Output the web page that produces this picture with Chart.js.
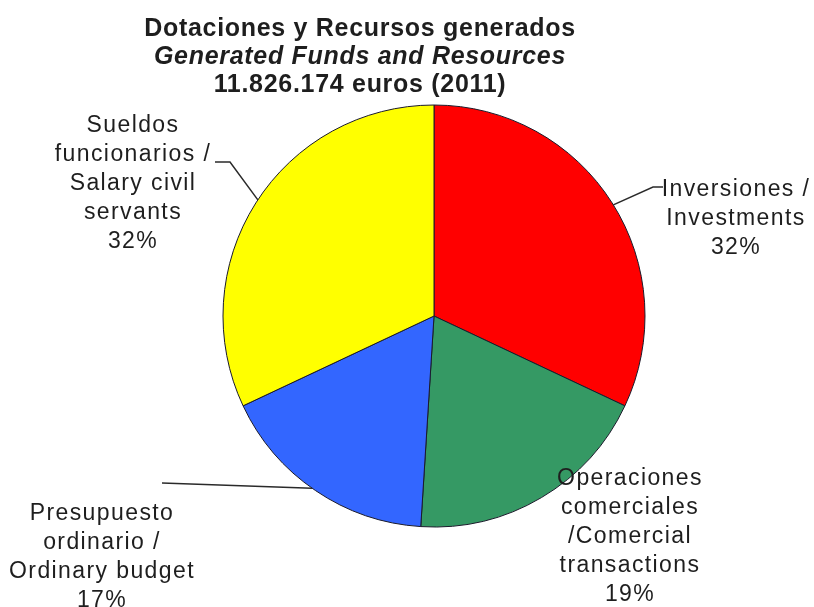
<!DOCTYPE html>
<html>
<head>
<meta charset="utf-8">
<script src="https://cdn.jsdelivr.net/npm/chart.js@4/dist/chart.umd.min.js"></script>
<style>
    html, body { margin: 0; padding: 0; background: #fff; }
    #wrap { width: 814px; height: 607px; }
</style>
</head>
<body>
<div id="wrap"><canvas id="fundsPie" width="814" height="607"></canvas></div>
<script>
// ---- Data ----

const categories = ['Inversiones / Investments', 'Operaciones comerciales / Comercial transactions', 'Presupuesto ordinario / Ordinary budget', 'Sueldos funcionarios / Salary civil servants'];
const shares = [32, 19, 17, 32];
const sliceColors = ['#ff0000', '#359964', '#3366ff', '#ffff00'];
const labelLines = [
    ['Inversiones /', 'Investments'],
    ['Operaciones', 'comerciales', '/Comercial', 'transactions'],
    ['Presupuesto', 'ordinario /', 'Ordinary budget'],
    ['Sueldos', 'funcionarios /', 'Salary civil', 'servants']
];
const titleLines = ['Dotaciones y Recursos generados', 'Generated Funds and Resources', '11.826.174 euros (2011)'];

// ---- Label placement (text block + leader line to the rim) ----

const placement = [
    { x: 736, y: 196, leader: [[663, 187], [653, 187]], rimAngle: -31.8 },
    { x: 630, y: 485, leader: null },
    { x: 102, y: 520, leader: [[162, 483]], rimAngle: 125.3 },
    { x: 133, y: 132, leader: [[215, 162], [230, 162]], rimAngle: -146.6 }
];

const textColor = '#1e1e1e';
const lineGap = 29;

const titlePlugin = {
    id: 'stackedTitle',
    afterDraw(chart) {
        const ctx = chart.ctx;
        const styles = ['bold 25px "Liberation Sans", Arial, sans-serif',
                        'italic bold 25px "Liberation Sans", Arial, sans-serif',
                        'bold 25px "Liberation Sans", Arial, sans-serif'];
        const ys = [36, 64, 92];
        ctx.save();
        ctx.fillStyle = textColor;
        ctx.textAlign = 'center';
        ctx.textBaseline = 'alphabetic';
        ctx.letterSpacing = '0.7px';
        titleLines.forEach((t, i) => {
            ctx.font = styles[i];
            ctx.fillText(t, 360, ys[i]);
        });
        ctx.restore();
    }
};

const labelPlugin = {
    id: 'sliceLabels',
    afterDraw(chart) {
        const ctx = chart.ctx;
        const arcs = chart.getDatasetMeta(0).data;
        ctx.save();
        ctx.font = '23px "Liberation Sans", Arial, sans-serif';
        ctx.letterSpacing = '1.4px';
        ctx.fillStyle = textColor;
        ctx.textAlign = 'center';
        ctx.textBaseline = 'alphabetic';

        placement.forEach((p, i) => {
            const lines = labelLines[i].concat([shares[i] + '%']);
            lines.forEach((t, k) => ctx.fillText(t, p.x, p.y + k * lineGap));

            if (!p.leader) return;
            const arc = arcs[i];
            const a = p.rimAngle * Math.PI / 180;
            const end = [arc.x + arc.outerRadius * Math.cos(a), arc.y + arc.outerRadius * Math.sin(a)];
            ctx.beginPath();
            ctx.strokeStyle = '#2a2a2a';
            ctx.lineWidth = 1.5;
            ctx.moveTo(p.leader[0][0], p.leader[0][1]);
            p.leader.slice(1).forEach(pt => ctx.lineTo(pt[0], pt[1]));
            ctx.lineTo(end[0], end[1]);
            ctx.stroke();
        });
        ctx.restore();
    }
};

new Chart(document.getElementById('fundsPie'), {
    type: 'pie',
    data: {
        labels: categories,
        datasets: [{
            data: shares,
            backgroundColor: sliceColors,
            borderColor: '#1a1a2a',
            borderWidth: 1
        }]
    },
    options: {
        responsive: false,
        animation: false,
        devicePixelRatio: 1,
        radius: 211,
        layout: { padding: { left: 54, right: 0, top: 25, bottom: 0 } },
        plugins: {
            legend: { display: false },
            tooltip: { enabled: false },
            title: { display: false }
        }
    },
    plugins: [titlePlugin, labelPlugin]
});
</script>
</body>
</html>
